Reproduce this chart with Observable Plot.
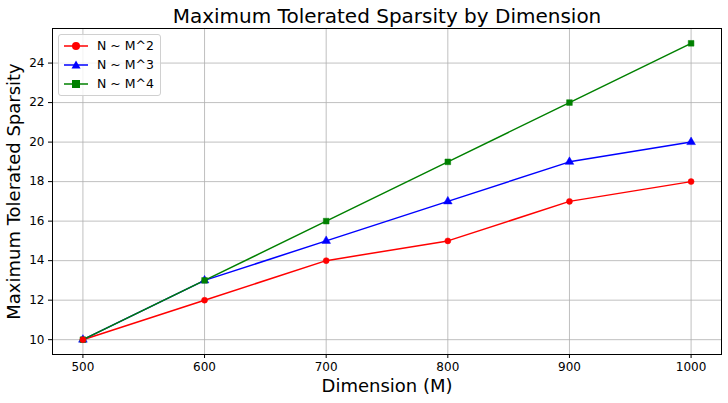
<!DOCTYPE html>
<html>
<head>
<meta charset="utf-8">
<script src="https://cdn.jsdelivr.net/npm/d3@7"></script>
<script src="https://cdn.jsdelivr.net/npm/@observablehq/plot@0.6"></script>
<style>
  body { margin: 0; background: #fff; font-family: "DejaVu Sans", sans-serif; }
  #wrap { position: relative; width: 728px; height: 403px; }
  #legend { position: absolute; left: 58px; top: 34px; width: 103px; height: 62px;
    border: 1px solid #d0d0d0; border-radius: 3px; background: rgba(255,255,255,0.8);
    font-size: 12.5px; color: #000; box-sizing: border-box; padding-top: 1px; }
  .row { display: flex; align-items: center; height: 19px; }
  .row svg { margin-left: 5px; margin-right: 9px; }
</style>
</head>
<body>
<div id="wrap"><div id="chart"></div><div id="legend"></div></div>
<script>
const dimensions = [500, 600, 700, 800, 900, 1000];
const seriesNames = ["N ~ M^2", "N ~ M^3", "N ~ M^4"];
const m2 = [10, 12, 14, 15, 17, 18];
const m3 = [10, 13, 15, 17, 19, 20];
const m4 = [10, 13, 16, 19, 22, 25];
const colors = ["#ff0000", "#0000ff", "#008000"];
const symbols = ["circle", "triangle", "square"];
const xTicks = [500, 600, 700, 800, 900, 1000];
const yTicks = [10, 12, 14, 16, 18, 20, 22, 24];

const allValues = [m2, m3, m4];
const data = [];
allValues.forEach((vals, s) => vals.forEach((v, i) => data.push({series: seriesNames[s], x: dimensions[i], y: v})));

const font = "DejaVu Sans, sans-serif";
const chart = Plot.plot({
  width: 728, height: 403,
  marginLeft: 52, marginRight: 7, marginTop: 28, marginBottom: 49,
  style: {fontFamily: font, fontSize: "12px", color: "#000", background: "#fff", overflow: "visible"},
  x: {domain: [475, 1025], ticks: xTicks, tickFormat: d => String(d), label: null},
  y: {domain: [9.25, 25.75], ticks: yTicks, tickFormat: d => String(d), label: null},
  color: {domain: seriesNames, range: colors},
  symbol: {domain: seriesNames, range: symbols},
  marks: [
    Plot.gridX(xTicks, {stroke: "#b0b0b0", strokeOpacity: 1, strokeWidth: 0.8}),
    Plot.gridY(yTicks, {stroke: "#b0b0b0", strokeOpacity: 1, strokeWidth: 0.8}),
    Plot.axisX(xTicks, {tickSize: 4, tickPadding: 4, fontSize: 12, tickFormat: d => String(d), label: null}),
    Plot.axisY(yTicks, {tickSize: 4, tickPadding: 4, fontSize: 12, tickFormat: d => String(d), label: null}),
    Plot.line(data, {x: "x", y: "y", z: "series", stroke: "series", strokeWidth: 1.5}),
    Plot.dot(data, {x: "x", y: "y", fill: "series", stroke: "series", strokeWidth: 0.5, symbol: "series", r: d => d.series === seriesNames[0] ? 4 : 4.6}),
    Plot.frame({stroke: "#000", strokeWidth: 1}),
    Plot.text(["Maximum Tolerated Sparsity by Dimension"], {frameAnchor: "top", lineAnchor: "middle", textAnchor: "middle", dy: -12, fontSize: 20, fill: "#000"}),
    Plot.text(["Dimension (M)"], {frameAnchor: "bottom", lineAnchor: "middle", textAnchor: "middle", dy: 32, fontSize: 18, fill: "#000"}),
    Plot.text(["Maximum Tolerated Sparsity"], {frameAnchor: "left", lineAnchor: "middle", textAnchor: "middle", dx: -38, rotate: -90, fontSize: 18, fill: "#000"})
  ]
});
document.getElementById("chart").appendChild(chart);

const legend = document.getElementById("legend");
const shapes = [
  '<circle cx="12" cy="6" r="4" fill="#ff0000"/>',
  '<path d="M12,1.5 L16.5,9.5 L7.5,9.5 Z" fill="#0000ff"/>',
  '<rect x="8" y="2" width="8" height="8" fill="#008000"/>'
];
seriesNames.forEach((name, i) => {
  const row = document.createElement("div");
  row.className = "row";
  row.innerHTML = `<svg width="24" height="12"><line x1="0" y1="6" x2="24" y2="6" stroke="${colors[i]}" stroke-width="1.5"/>${shapes[i]}</svg><span>${name}</span>`;
  legend.appendChild(row);
});
</script>
</body>
</html>
